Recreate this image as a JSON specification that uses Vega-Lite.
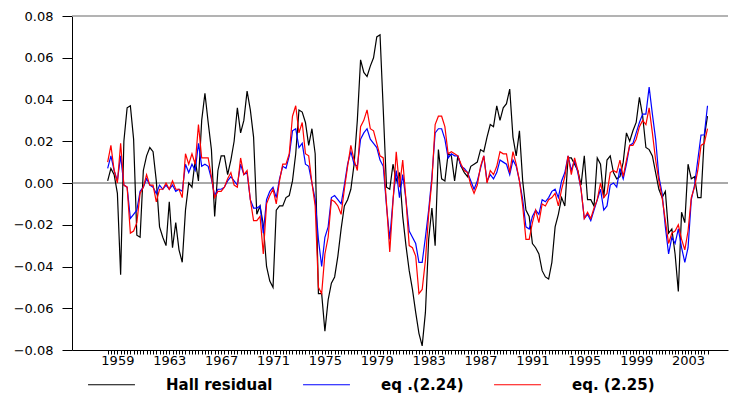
{
  "$schema": "https://vega.github.io/schema/vega-lite/v6.json",
  "width": 656,
  "height": 334,
  "autosize": "none",
  "padding": {"left": 72, "top": 16, "right": 6, "bottom": 52},
  "background": "white",
  "config": {
    "view": {"stroke": null},
    "font": "DejaVu Sans",
    "axis": {
      "labelFont": "DejaVu Sans",
      "labelFontSize": 13,
      "labelColor": "#000000",
      "domainColor": "#000000",
      "tickColor": "#000000",
      "domainWidth": 1,
      "tickWidth": 1,
      "grid": false,
      "title": null
    }
  },
  "datasets": {
    "series": [
      {"t": 1958.25, "hall": 0.001, "eq224": 0.007, "eq225": 0.010},
      {"t": 1958.5, "hall": 0.007, "eq224": 0.013, "eq225": 0.018},
      {"t": 1958.75, "hall": 0.004, "eq224": 0.006, "eq225": 0.006},
      {"t": 1959.0, "hall": -0.005, "eq224": 0.001, "eq225": 0.000},
      {"t": 1959.25, "hall": -0.044, "eq224": 0.013, "eq225": 0.019},
      {"t": 1959.5, "hall": 0.020, "eq224": -0.001, "eq225": -0.001},
      {"t": 1959.75, "hall": 0.036, "eq224": -0.002, "eq225": -0.002},
      {"t": 1960.0, "hall": 0.037, "eq224": -0.017, "eq225": -0.024},
      {"t": 1960.25, "hall": 0.021, "eq224": -0.015, "eq225": -0.023},
      {"t": 1960.5, "hall": -0.025, "eq224": -0.013, "eq225": -0.019},
      {"t": 1960.75, "hall": -0.026, "eq224": -0.004, "eq225": -0.005},
      {"t": 1961.0, "hall": 0.006, "eq224": -0.002, "eq225": -0.002},
      {"t": 1961.25, "hall": 0.013, "eq224": 0.002, "eq225": 0.004},
      {"t": 1961.5, "hall": 0.017, "eq224": -0.001, "eq225": -0.001},
      {"t": 1961.75, "hall": 0.015, "eq224": -0.002, "eq225": -0.001},
      {"t": 1962.0, "hall": 0.001, "eq224": -0.005, "eq225": -0.009},
      {"t": 1962.25, "hall": -0.021, "eq224": -0.001, "eq225": -0.003},
      {"t": 1962.5, "hall": -0.026, "eq224": -0.003, "eq225": -0.003},
      {"t": 1962.75, "hall": -0.030, "eq224": -0.001, "eq225": 0.000},
      {"t": 1963.0, "hall": -0.009, "eq224": -0.003, "eq225": -0.003},
      {"t": 1963.25, "hall": -0.031, "eq224": -0.001, "eq225": 0.001},
      {"t": 1963.5, "hall": -0.019, "eq224": -0.004, "eq225": -0.003},
      {"t": 1963.75, "hall": -0.032, "eq224": -0.003, "eq225": -0.003},
      {"t": 1964.0, "hall": -0.038, "eq224": -0.004, "eq225": -0.007},
      {"t": 1964.25, "hall": -0.013, "eq224": 0.009, "eq225": 0.014},
      {"t": 1964.5, "hall": 0.000, "eq224": 0.005, "eq225": 0.009},
      {"t": 1964.75, "hall": -0.002, "eq224": 0.009, "eq225": 0.014},
      {"t": 1965.0, "hall": 0.011, "eq224": 0.006, "eq225": 0.009},
      {"t": 1965.25, "hall": 0.001, "eq224": 0.019, "eq225": 0.028},
      {"t": 1965.5, "hall": 0.030, "eq224": 0.008, "eq225": 0.012},
      {"t": 1965.75, "hall": 0.043, "eq224": 0.009, "eq225": 0.012},
      {"t": 1966.0, "hall": 0.029, "eq224": 0.008, "eq225": 0.012},
      {"t": 1966.25, "hall": 0.016, "eq224": 0.002, "eq225": 0.003},
      {"t": 1966.5, "hall": -0.016, "eq224": -0.006, "eq225": -0.007},
      {"t": 1966.75, "hall": 0.006, "eq224": -0.003, "eq225": -0.004},
      {"t": 1967.0, "hall": 0.013, "eq224": -0.003, "eq225": -0.004},
      {"t": 1967.25, "hall": 0.013, "eq224": -0.002, "eq225": -0.002},
      {"t": 1967.5, "hall": 0.004, "eq224": 0.001, "eq225": 0.002},
      {"t": 1967.75, "hall": 0.011, "eq224": 0.003, "eq225": 0.005},
      {"t": 1968.0, "hall": 0.020, "eq224": 0.001, "eq225": -0.001},
      {"t": 1968.25, "hall": 0.036, "eq224": -0.001, "eq225": -0.002},
      {"t": 1968.5, "hall": 0.024, "eq224": 0.009, "eq225": 0.012},
      {"t": 1968.75, "hall": 0.030, "eq224": 0.004, "eq225": 0.004},
      {"t": 1969.0, "hall": 0.044, "eq224": 0.005, "eq225": 0.006},
      {"t": 1969.25, "hall": 0.035, "eq224": -0.008, "eq225": -0.008},
      {"t": 1969.5, "hall": 0.022, "eq224": -0.012, "eq225": -0.018},
      {"t": 1969.75, "hall": -0.015, "eq224": -0.012, "eq225": -0.018},
      {"t": 1970.0, "hall": -0.011, "eq224": -0.011, "eq225": -0.016},
      {"t": 1970.25, "hall": -0.020, "eq224": -0.024, "eq225": -0.034},
      {"t": 1970.5, "hall": -0.040, "eq224": -0.008, "eq225": -0.010},
      {"t": 1970.75, "hall": -0.047, "eq224": -0.004, "eq225": -0.006},
      {"t": 1971.0, "hall": -0.050, "eq224": -0.002, "eq225": -0.003},
      {"t": 1971.25, "hall": -0.013, "eq224": -0.007, "eq225": -0.010},
      {"t": 1971.5, "hall": -0.011, "eq224": 0.002, "eq225": 0.001},
      {"t": 1971.75, "hall": -0.011, "eq224": 0.008, "eq225": 0.009},
      {"t": 1972.0, "hall": -0.007, "eq224": 0.007, "eq225": 0.009},
      {"t": 1972.25, "hall": -0.006, "eq224": 0.013, "eq225": 0.014},
      {"t": 1972.5, "hall": 0.001, "eq224": 0.025, "eq225": 0.032},
      {"t": 1972.75, "hall": 0.014, "eq224": 0.026, "eq225": 0.037},
      {"t": 1973.0, "hall": 0.035, "eq224": 0.017, "eq225": 0.024},
      {"t": 1973.25, "hall": 0.034, "eq224": 0.019, "eq225": 0.029},
      {"t": 1973.5, "hall": 0.029, "eq224": 0.009, "eq225": 0.014},
      {"t": 1973.75, "hall": 0.018, "eq224": 0.008, "eq225": 0.013},
      {"t": 1974.0, "hall": 0.026, "eq224": 0.000, "eq225": 0.000},
      {"t": 1974.25, "hall": 0.014, "eq224": -0.008, "eq225": -0.011},
      {"t": 1974.5, "hall": -0.053, "eq224": -0.027, "eq225": -0.050},
      {"t": 1974.75, "hall": -0.053, "eq224": -0.040, "eq225": -0.053},
      {"t": 1975.0, "hall": -0.071, "eq224": -0.026, "eq225": -0.034},
      {"t": 1975.25, "hall": -0.056, "eq224": -0.021, "eq225": -0.026},
      {"t": 1975.5, "hall": -0.048, "eq224": -0.007, "eq225": -0.008},
      {"t": 1975.75, "hall": -0.045, "eq224": -0.006, "eq225": -0.009},
      {"t": 1976.0, "hall": -0.035, "eq224": -0.008, "eq225": -0.011},
      {"t": 1976.25, "hall": -0.022, "eq224": -0.010, "eq225": -0.015},
      {"t": 1976.5, "hall": -0.011, "eq224": -0.001, "eq225": -0.003},
      {"t": 1976.75, "hall": -0.008, "eq224": 0.009, "eq225": 0.008},
      {"t": 1977.0, "hall": -0.003, "eq224": 0.015, "eq225": 0.018},
      {"t": 1977.25, "hall": 0.009, "eq224": 0.009, "eq225": 0.011},
      {"t": 1977.5, "hall": 0.030, "eq224": 0.008, "eq225": 0.006},
      {"t": 1977.75, "hall": 0.059, "eq224": 0.021, "eq225": 0.027},
      {"t": 1978.0, "hall": 0.053, "eq224": 0.024, "eq225": 0.030},
      {"t": 1978.25, "hall": 0.051, "eq224": 0.026, "eq225": 0.035},
      {"t": 1978.5, "hall": 0.056, "eq224": 0.021, "eq225": 0.026},
      {"t": 1978.75, "hall": 0.060, "eq224": 0.019, "eq225": 0.025},
      {"t": 1979.0, "hall": 0.070, "eq224": 0.017, "eq225": 0.019},
      {"t": 1979.25, "hall": 0.071, "eq224": 0.011, "eq225": 0.013},
      {"t": 1979.5, "hall": 0.035, "eq224": 0.008, "eq225": 0.012},
      {"t": 1979.75, "hall": -0.002, "eq224": -0.011, "eq225": -0.010},
      {"t": 1980.0, "hall": -0.003, "eq224": -0.027, "eq225": -0.033},
      {"t": 1980.25, "hall": 0.009, "eq224": -0.008, "eq225": -0.009},
      {"t": 1980.5, "hall": 0.001, "eq224": 0.006, "eq225": 0.015},
      {"t": 1980.75, "hall": 0.005, "eq224": -0.007, "eq225": -0.002},
      {"t": 1981.0, "hall": -0.016, "eq224": 0.004, "eq225": 0.011},
      {"t": 1981.25, "hall": -0.030, "eq224": -0.008, "eq225": -0.008},
      {"t": 1981.5, "hall": -0.042, "eq224": -0.023, "eq225": -0.030},
      {"t": 1981.75, "hall": -0.051, "eq224": -0.026, "eq225": -0.031},
      {"t": 1982.0, "hall": -0.062, "eq224": -0.029, "eq225": -0.035},
      {"t": 1982.25, "hall": -0.072, "eq224": -0.038, "eq225": -0.053},
      {"t": 1982.5, "hall": -0.078, "eq224": -0.038, "eq225": -0.051},
      {"t": 1982.75, "hall": -0.062, "eq224": -0.026, "eq225": -0.037},
      {"t": 1983.0, "hall": -0.027, "eq224": -0.013, "eq225": -0.015},
      {"t": 1983.25, "hall": -0.012, "eq224": 0.003, "eq225": 0.001},
      {"t": 1983.5, "hall": -0.030, "eq224": 0.024, "eq225": 0.028},
      {"t": 1983.75, "hall": 0.016, "eq224": 0.026, "eq225": 0.032},
      {"t": 1984.0, "hall": 0.002, "eq224": 0.026, "eq225": 0.032},
      {"t": 1984.25, "hall": 0.001, "eq224": 0.021, "eq225": 0.027},
      {"t": 1984.5, "hall": 0.014, "eq224": 0.012, "eq225": 0.014},
      {"t": 1984.75, "hall": 0.013, "eq224": 0.014, "eq225": 0.015},
      {"t": 1985.0, "hall": 0.001, "eq224": 0.013, "eq225": 0.014},
      {"t": 1985.25, "hall": 0.013, "eq224": 0.013, "eq225": 0.013},
      {"t": 1985.5, "hall": 0.008, "eq224": 0.008, "eq225": 0.009},
      {"t": 1985.75, "hall": 0.005, "eq224": 0.007, "eq225": 0.006},
      {"t": 1986.0, "hall": 0.003, "eq224": 0.005, "eq225": 0.005},
      {"t": 1986.25, "hall": 0.008, "eq224": 0.001, "eq225": -0.001},
      {"t": 1986.5, "hall": 0.009, "eq224": -0.003, "eq225": -0.005},
      {"t": 1986.75, "hall": 0.010, "eq224": 0.001, "eq225": -0.001},
      {"t": 1987.0, "hall": 0.016, "eq224": 0.007, "eq225": 0.008},
      {"t": 1987.25, "hall": 0.015, "eq224": 0.013, "eq225": 0.013},
      {"t": 1987.5, "hall": 0.022, "eq224": 0.001, "eq225": 0.000},
      {"t": 1987.75, "hall": 0.028, "eq224": 0.004, "eq225": 0.006},
      {"t": 1988.0, "hall": 0.027, "eq224": 0.002, "eq225": 0.004},
      {"t": 1988.25, "hall": 0.037, "eq224": 0.005, "eq225": 0.008},
      {"t": 1988.5, "hall": 0.030, "eq224": 0.011, "eq225": 0.015},
      {"t": 1988.75, "hall": 0.036, "eq224": 0.010, "eq225": 0.014},
      {"t": 1989.0, "hall": 0.038, "eq224": 0.009, "eq225": 0.014},
      {"t": 1989.25, "hall": 0.045, "eq224": 0.004, "eq225": 0.005},
      {"t": 1989.5, "hall": 0.022, "eq224": 0.011, "eq225": 0.015},
      {"t": 1989.75, "hall": 0.013, "eq224": 0.008, "eq225": 0.009},
      {"t": 1990.0, "hall": 0.025, "eq224": 0.001, "eq225": 0.001},
      {"t": 1990.25, "hall": 0.001, "eq224": -0.008, "eq225": -0.011},
      {"t": 1990.5, "hall": -0.013, "eq224": -0.021, "eq225": -0.027},
      {"t": 1990.75, "hall": -0.016, "eq224": -0.022, "eq225": -0.027},
      {"t": 1991.0, "hall": -0.029, "eq224": -0.016, "eq225": -0.019},
      {"t": 1991.25, "hall": -0.031, "eq224": -0.013, "eq225": -0.013},
      {"t": 1991.5, "hall": -0.034, "eq224": -0.015, "eq225": -0.019},
      {"t": 1991.75, "hall": -0.042, "eq224": -0.008, "eq225": -0.010},
      {"t": 1992.0, "hall": -0.045, "eq224": -0.009, "eq225": -0.011},
      {"t": 1992.25, "hall": -0.046, "eq224": -0.007, "eq225": -0.008},
      {"t": 1992.5, "hall": -0.038, "eq224": -0.004, "eq225": -0.007},
      {"t": 1992.75, "hall": -0.021, "eq224": -0.003, "eq225": -0.005},
      {"t": 1993.0, "hall": -0.015, "eq224": -0.007, "eq225": -0.011},
      {"t": 1993.25, "hall": -0.007, "eq224": 0.001, "eq225": -0.003},
      {"t": 1993.5, "hall": -0.011, "eq224": 0.005, "eq225": 0.003},
      {"t": 1993.75, "hall": 0.012, "eq224": 0.013, "eq225": 0.013},
      {"t": 1994.0, "hall": 0.012, "eq224": 0.006, "eq225": 0.004},
      {"t": 1994.25, "hall": 0.009, "eq224": 0.011, "eq225": 0.012},
      {"t": 1994.5, "hall": 0.006, "eq224": 0.005, "eq225": 0.006},
      {"t": 1994.75, "hall": -0.001, "eq224": -0.003, "eq225": -0.003},
      {"t": 1995.0, "hall": 0.013, "eq224": -0.017, "eq225": -0.017},
      {"t": 1995.25, "hall": -0.008, "eq224": -0.015, "eq225": -0.014},
      {"t": 1995.5, "hall": -0.008, "eq224": -0.018, "eq225": -0.017},
      {"t": 1995.75, "hall": -0.011, "eq224": -0.013, "eq225": -0.012},
      {"t": 1996.0, "hall": 0.012, "eq224": -0.008, "eq225": -0.008},
      {"t": 1996.25, "hall": 0.009, "eq224": -0.003, "eq225": 0.000},
      {"t": 1996.5, "hall": -0.007, "eq224": -0.013, "eq225": -0.007},
      {"t": 1996.75, "hall": 0.011, "eq224": -0.011, "eq225": -0.005},
      {"t": 1997.0, "hall": 0.013, "eq224": -0.001, "eq225": 0.005},
      {"t": 1997.25, "hall": 0.005, "eq224": 0.000, "eq225": 0.006},
      {"t": 1997.5, "hall": 0.002, "eq224": -0.002, "eq225": 0.005},
      {"t": 1997.75, "hall": 0.003, "eq224": 0.007, "eq225": 0.011},
      {"t": 1998.0, "hall": 0.010, "eq224": 0.002, "eq225": 0.003},
      {"t": 1998.25, "hall": 0.024, "eq224": 0.009, "eq225": 0.011},
      {"t": 1998.5, "hall": 0.020, "eq224": 0.018, "eq225": 0.018},
      {"t": 1998.75, "hall": 0.025, "eq224": 0.019, "eq225": 0.018},
      {"t": 1999.0, "hall": 0.029, "eq224": 0.024, "eq225": 0.021},
      {"t": 1999.25, "hall": 0.041, "eq224": 0.029, "eq225": 0.027},
      {"t": 1999.5, "hall": 0.032, "eq224": 0.033, "eq225": 0.030},
      {"t": 1999.75, "hall": 0.017, "eq224": 0.033, "eq225": 0.028},
      {"t": 2000.0, "hall": 0.016, "eq224": 0.046, "eq225": 0.036},
      {"t": 2000.25, "hall": 0.013, "eq224": 0.033, "eq225": 0.024},
      {"t": 2000.5, "hall": 0.005, "eq224": 0.021, "eq225": 0.011},
      {"t": 2000.75, "hall": -0.003, "eq224": 0.003, "eq225": 0.001},
      {"t": 2001.0, "hall": -0.007, "eq224": -0.005, "eq225": -0.007},
      {"t": 2001.25, "hall": -0.004, "eq224": -0.021, "eq225": -0.018},
      {"t": 2001.5, "hall": -0.024, "eq224": -0.034, "eq225": -0.029},
      {"t": 2001.75, "hall": -0.022, "eq224": -0.026, "eq225": -0.024},
      {"t": 2002.0, "hall": -0.034, "eq224": -0.029, "eq225": -0.023},
      {"t": 2002.25, "hall": -0.052, "eq224": -0.022, "eq225": -0.020},
      {"t": 2002.5, "hall": -0.014, "eq224": -0.031, "eq225": -0.027},
      {"t": 2002.75, "hall": -0.019, "eq224": -0.038, "eq225": -0.032},
      {"t": 2003.0, "hall": 0.009, "eq224": -0.031, "eq225": -0.023},
      {"t": 2003.25, "hall": 0.002, "eq224": -0.008, "eq225": -0.007},
      {"t": 2003.5, "hall": 0.003, "eq224": -0.001, "eq225": -0.002},
      {"t": 2003.75, "hall": -0.007, "eq224": 0.011, "eq225": 0.006},
      {"t": 2004.0, "hall": -0.007, "eq224": 0.023, "eq225": 0.018},
      {"t": 2004.25, "hall": 0.022, "eq224": 0.023, "eq225": 0.019},
      {"t": 2004.5, "hall": 0.032, "eq224": 0.037, "eq225": 0.026}
    ],
    "frame": [{"level": 0.08}],
    "zero": [{"level": 0}]
  },
  "layer": [
    {
      "data": {"name": "frame"},
      "mark": {"type": "rule", "color": "#9a9a9a", "strokeWidth": 1.5},
      "encoding": {
        "y": {"field": "level", "type": "quantitative", "scale": {"domain": [-0.08, 0.08], "nice": false, "zero": false}}
      }
    },
    {
      "data": {"name": "zero"},
      "mark": {"type": "rule", "color": "#555555", "strokeWidth": 1},
      "encoding": {
        "y": {"field": "level", "type": "quantitative"}
      }
    },
    {
      "data": {"name": "series"},
      "transform": [
        {"fold": ["hall", "eq224", "eq225"], "as": ["series", "value"]}
      ],
      "mark": {"type": "line", "strokeWidth": 1.2, "interpolate": "linear"},
      "encoding": {
        "x": {
          "field": "t",
          "type": "quantitative",
          "scale": {"domain": [1955.5, 2006.08], "nice": false, "zero": false},
          "axis": {
            "values": [1958.25, 1958.5, 1958.75, 1959, 1959.25, 1959.5, 1959.75, 1960, 1960.25, 1960.5, 1960.75, 1961, 1961.25, 1961.5, 1961.75, 1962, 1962.25, 1962.5, 1962.75, 1963, 1963.25, 1963.5, 1963.75, 1964, 1964.25, 1964.5, 1964.75, 1965, 1965.25, 1965.5, 1965.75, 1966, 1966.25, 1966.5, 1966.75, 1967, 1967.25, 1967.5, 1967.75, 1968, 1968.25, 1968.5, 1968.75, 1969, 1969.25, 1969.5, 1969.75, 1970, 1970.25, 1970.5, 1970.75, 1971, 1971.25, 1971.5, 1971.75, 1972, 1972.25, 1972.5, 1972.75, 1973, 1973.25, 1973.5, 1973.75, 1974, 1974.25, 1974.5, 1974.75, 1975, 1975.25, 1975.5, 1975.75, 1976, 1976.25, 1976.5, 1976.75, 1977, 1977.25, 1977.5, 1977.75, 1978, 1978.25, 1978.5, 1978.75, 1979, 1979.25, 1979.5, 1979.75, 1980, 1980.25, 1980.5, 1980.75, 1981, 1981.25, 1981.5, 1981.75, 1982, 1982.25, 1982.5, 1982.75, 1983, 1983.25, 1983.5, 1983.75, 1984, 1984.25, 1984.5, 1984.75, 1985, 1985.25, 1985.5, 1985.75, 1986, 1986.25, 1986.5, 1986.75, 1987, 1987.25, 1987.5, 1987.75, 1988, 1988.25, 1988.5, 1988.75, 1989, 1989.25, 1989.5, 1989.75, 1990, 1990.25, 1990.5, 1990.75, 1991, 1991.25, 1991.5, 1991.75, 1992, 1992.25, 1992.5, 1992.75, 1993, 1993.25, 1993.5, 1993.75, 1994, 1994.25, 1994.5, 1994.75, 1995, 1995.25, 1995.5, 1995.75, 1996, 1996.25, 1996.5, 1996.75, 1997, 1997.25, 1997.5, 1997.75, 1998, 1998.25, 1998.5, 1998.75, 1999, 1999.25, 1999.5, 1999.75, 2000, 2000.25, 2000.5, 2000.75, 2001, 2001.25, 2001.5, 2001.75, 2002, 2002.25, 2002.5, 2002.75, 2003, 2003.25, 2003.5, 2003.75, 2004, 2004.25, 2004.5],
            "labelExpr": "(datum.value % 4 == 3) ? format(datum.value, 'd') : ''",
            "labelOverlap": false,
            "labelFlush": false,
            "labelBound": false,
            "tickSize": 4,
            "labelPadding": 0
          }
        },
        "y": {
          "field": "value",
          "type": "quantitative",
          "scale": {"domain": [-0.08, 0.08], "nice": false, "zero": false},
          "axis": {
            "values": [-0.08, -0.06, -0.04, -0.02, 0, 0.02, 0.04, 0.06, 0.08],
            "format": ".2f",
            "tickSize": 10,
            "labelPadding": 9
          }
        },
        "color": {
          "field": "series",
          "type": "nominal",
          "scale": {"domain": ["hall", "eq224", "eq225"], "range": ["#000000", "#0000ff", "#ff0000"]},
          "legend": {
            "orient": "none",
            "legendX": 15,
            "legendY": 344,
            "direction": "horizontal",
            "title": null,
            "padding": 0,
            "symbolType": "stroke",
            "symbolSize": 2200,
            "symbolStrokeWidth": 1.2,
            "labelFont": "DejaVu Sans",
            "labelFontWeight": "bold",
            "labelFontSize": 15,
            "labelColor": "#000000",
            "labelOffset": 30,
            "columnPadding": 27,
            "labelExpr": "datum.value == 'hall' ? 'Hall residual' : (datum.value == 'eq224' ? 'eq .(2.24)' : 'eq. (2.25)')"
          }
        },
        "order": {"field": "t", "type": "quantitative"}
      }
    }
  ]
}
